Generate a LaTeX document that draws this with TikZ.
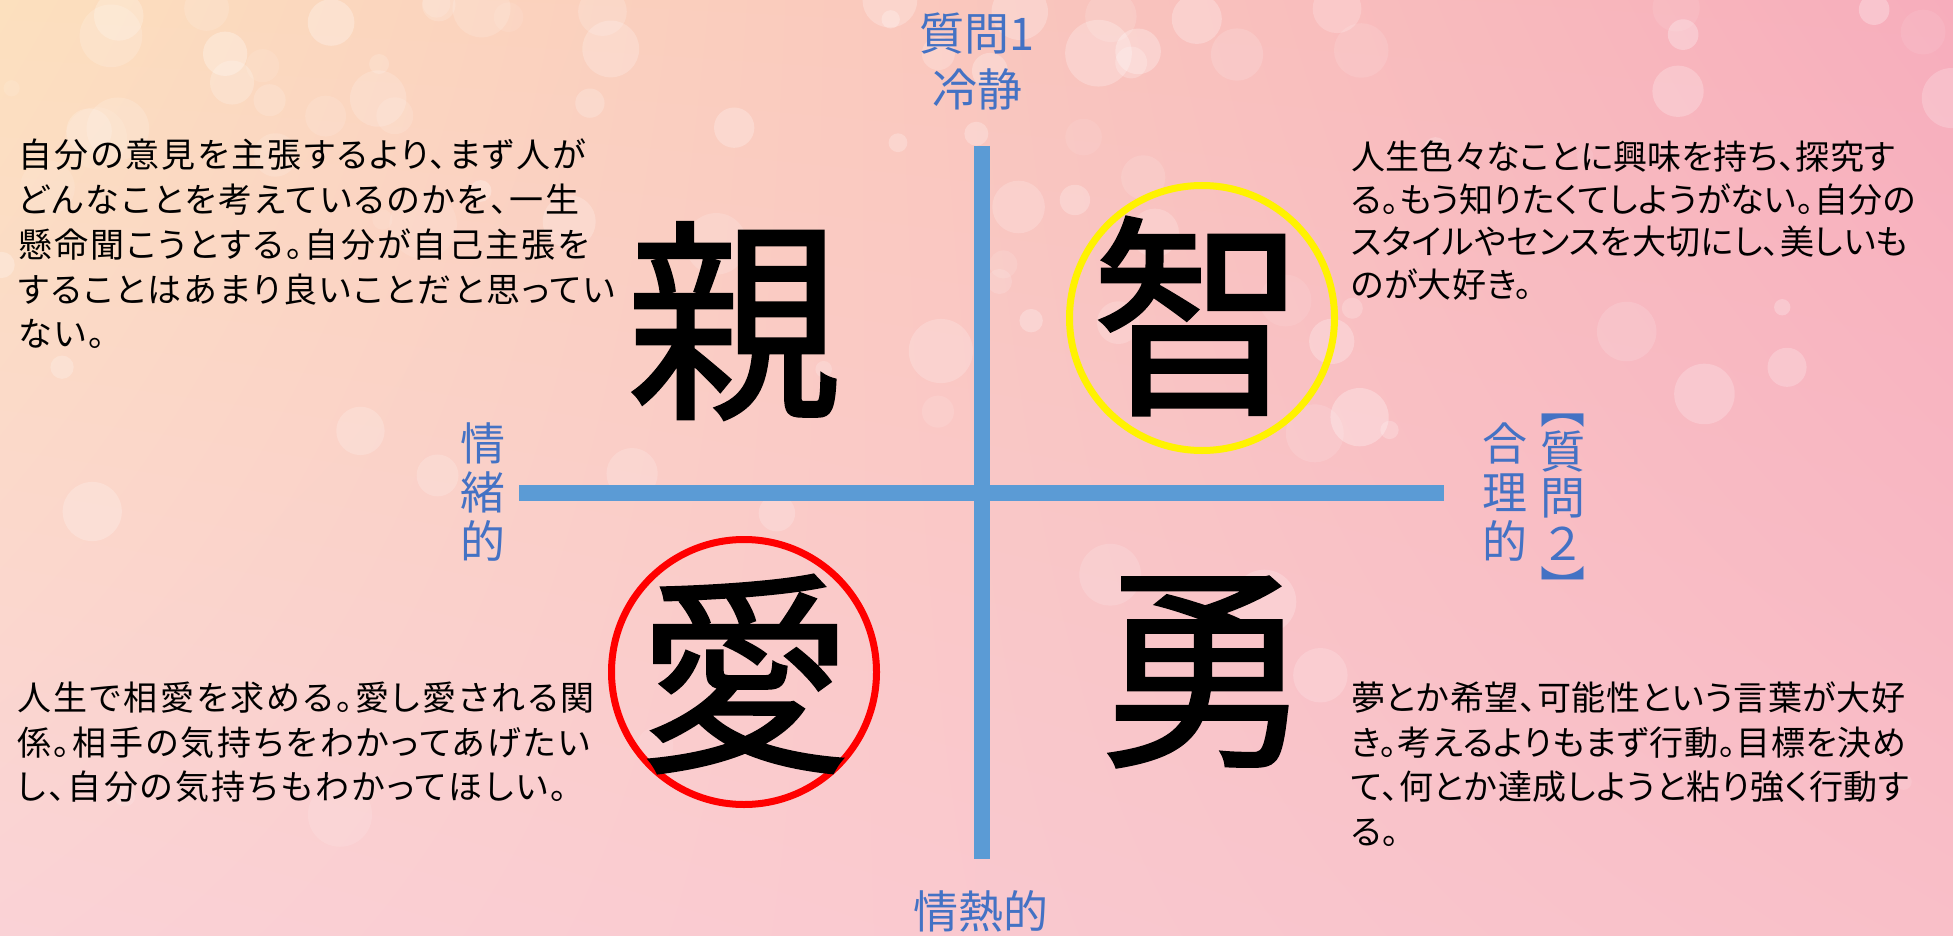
\documentclass[tikz,border=0pt]{standalone}
\usepackage{fontspec}
\usetikzlibrary{shadings}
\newfontfamily\jp[RawFeature=+palt]{Noto Sans CJK JP}
\newfontfamily\jpf{Noto Sans CJK JP}
\newfontfamily\jpbig[FakeBold=1.2]{Noto Sans CJK JP}
\definecolor{labelblue}{HTML}{4472C4}
\definecolor{axisblue}{HTML}{5B9BD5}
\definecolor{bgUL}{HTML}{FCE0BE}
\definecolor{bgUR}{HTML}{F7ADBC}
\definecolor{bgLL}{HTML}{FAD2D6}
\definecolor{bgLR}{HTML}{F9BFC8}
\tikzset{
  bodytext/.style={anchor=north west, align=left, inner sep=0pt, text=black,
    font=\jp\fontsize{34}{44.5}\selectfont},
  axislabel/.style={inner sep=0pt, text=labelblue, align=center,
    font=\jpf\fontsize{45}{49}\selectfont},
  bigchar/.style={inner sep=0pt, text=black, font=\jpbig\fontsize{215}{215}\selectfont},
  axisline/.style={draw=axisblue, line width=16pt},
  ring/.style={circle, line width=7pt, minimum size=265pt, inner sep=0pt},
  bokeh/.style={fill=white, draw=none}
}
\begin{document}
\begin{tikzpicture}[x=1pt,y=-1pt]
\useasboundingbox (0,0) rectangle (1953,936);
% background
\shade[upper left=bgUL, upper right=bgUR, lower left=bgLL, lower right=bgLR]
  (0,0) rectangle (1953,936);
\pgfmathsetseed{11}
\foreach \i in {1,...,90}{
  \pgfmathsetmacro{\bx}{rnd*1953}
  \pgfmathsetmacro{\by}{rnd*rnd*900}
  \pgfmathsetmacro{\br}{8+rnd*26}
  \pgfmathsetmacro{\bo}{0.08+rnd*0.2}
  \fill[bokeh, opacity=\bo] (\bx,\by) circle[radius=\br];
}
% axes
\coordinate (vtop) at (982,146);
\coordinate (vbot) at (982,859);
\coordinate (hleft) at (519,493);
\coordinate (hright) at (1444,493);
\draw[axisline] (vtop) -- (vbot);
\draw[axisline] (hleft) -- (hright);
% axis labels
\node[axislabel] (q1) at (977,34) {質問1};
\node[axislabel] (calm) at (977,89) {冷静};
\node[axislabel] (emo) at (483,492) {情\\緒\\的};
\node[axislabel] (logic) at (1505,492) {合\\理\\的};
\node[axislabel, font=\jpf\fontsize{45}{46}\selectfont] (q2) at (1563,496) {質\\問\\２};
\node[axislabel, anchor=south] (q2open) at (1563,428) {︻};
\node[axislabel, anchor=north] (q2close) at (1563,566) {︼};
\node[axislabel] (passion) at (981,911) {情熱的};
% circles
\node[ring, draw=yellow] (ycirc) at (1202,318) {};
\node[ring, draw=red] (rcirc) at (744,672) {};
% big characters
\node[bigchar] (shin) at (734,321) {親};
\node[bigchar] (chi) at (1199,316) {智};
\node[bigchar] (ai) at (745,674) {愛};
\node[bigchar] (yu) at (1203,672) {勇};
% body texts
\node[bodytext, font=\jp\addfontfeature{LetterSpace=6.5}\fontsize{34}{44.7}\selectfont] (tl) at (18,139) {自分の意見を主張するより、まず人が\\どんなことを考えているのかを、一生\\懸命聞こうとする。自分が自己主張を\\することはあまり良いことだと思ってい\\ない。};
\node[bodytext, font=\jp\addfontfeature{LetterSpace=1}\fontsize{34}{42.5}\selectfont] (tr) at (1351,141) {人生色々なことに興味を持ち、探究す\\る。もう知りたくてしようがない。自分の\\スタイルやセンスを大切にし、美しいも\\のが大好き。};
\node[bodytext, font=\jp\addfontfeature{LetterSpace=7}\fontsize{34}{44.2}\selectfont] (bl) at (17,682) {人生で相愛を求める。愛し愛される関\\係。相手の気持ちをわかってあげたい\\し、自分の気持ちもわかってほしい。};
\node[bodytext, font=\jp\addfontfeature{LetterSpace=2}\fontsize{34}{44.4}\selectfont] (br) at (1351,682) {夢とか希望、可能性という言葉が大好\\き。考えるよりもまず行動。目標を決め\\て、何とか達成しようと粘り強く行動す\\る。};
\end{tikzpicture}
\end{document}
